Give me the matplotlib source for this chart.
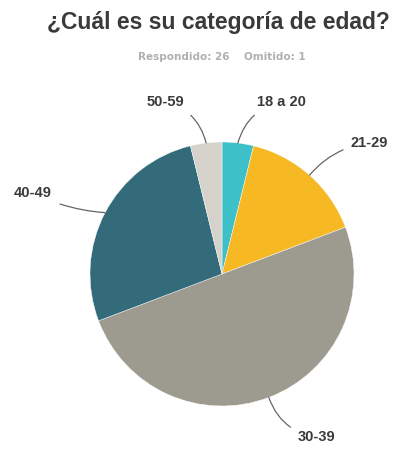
import numpy as np
import matplotlib.pyplot as plt

# Respuestas por categoría de edad
categorias = ["18 a 20", "21-29", "30-39", "40-49", "50-59"]
respuestas = [1, 4, 13, 7, 1]
colores = ["#3ec0c9", "#f6b823", "#9d9b8f", "#336b7b", "#d4d2ca"]
respondido = 26
omitido = 1

# Posición de cada etiqueta (px) y curvatura de su línea guía
etiquetas = {
    "18 a 20": ((257, 353), "left", 0.3),
    "21-29": ((351, 312), "left", 0.2),
    "30-39": ((298, 18), "left", -0.3),
    "40-49": ((52, 262), "right", 0.1),
    "50-59": ((184, 353), "right", -0.3),
}

W, H = 402, 455
cx, cy, r = 222, 455 - 274, 132

fig = plt.figure(figsize=(W / 100, H / 100), dpi=100)
ax = fig.add_axes([0, 0, 1, 1])

wedges, _ = ax.pie(respuestas, colors=colores, startangle=90, counterclock=False,
                   center=(cx, cy), radius=r, frame=True,
                   wedgeprops=dict(edgecolor="white", linewidth=0.3))
ax.set_xlim(0, W)
ax.set_ylim(0, H)
ax.set_aspect("equal")
ax.axis("off")

for w, cat in zip(wedges, categorias):
    ang = np.deg2rad((w.theta1 + w.theta2) / 2)
    px, py = cx + r * np.cos(ang), cy + r * np.sin(ang)
    (tx, ty), ha, rad = etiquetas[cat]
    ax.annotate(cat, xy=(px, py), xytext=(tx, ty), ha=ha, va="center",
                fontsize=10.5, fontweight="bold", color="#3a3a3a",
                family="Liberation Sans",
                arrowprops=dict(arrowstyle="-", color="#666666", lw=0.9,
                                shrinkA=4, shrinkB=0,
                                connectionstyle=f"arc3,rad={rad}"))

fig.text(218 / W, 1 - 23 / H, "¿Cuál es su categoría de edad?", ha="center",
         va="center", fontsize=16.5, fontweight="bold", color="#3a3a3a",
         family="Liberation Sans")
fig.text(222 / W, 1 - 57 / H, f"Respondido: {respondido}    Omitido: {omitido}",
         ha="center", va="center", fontsize=7.5, fontweight="bold",
         color="#b0b0b0", family="DejaVu Sans")

fig.savefig("out.png", dpi=100)
